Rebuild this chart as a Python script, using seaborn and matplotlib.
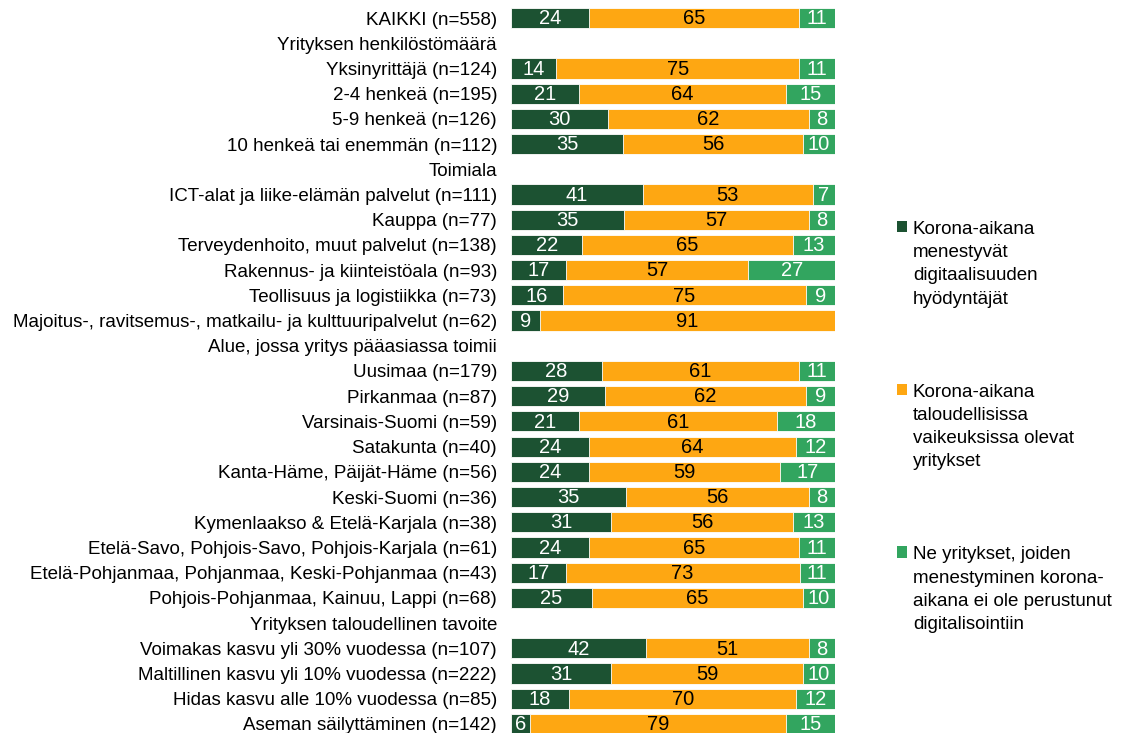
import numpy as np
import pandas as pd
import matplotlib
matplotlib.use("Agg")
import matplotlib.pyplot as plt
import seaborn as sns
from matplotlib.patches import Patch

# rows top to bottom; section headers have no values
labels = [
    "KAIKKI (n=558)",
    "Yrityksen henkilöstömäärä",
    "Yksinyrittäjä (n=124)",
    "2-4 henkeä (n=195)",
    "5-9 henkeä (n=126)",
    "10 henkeä tai enemmän (n=112)",
    "Toimiala",
    "ICT-alat ja liike-elämän palvelut (n=111)",
    "Kauppa (n=77)",
    "Terveydenhoito, muut palvelut (n=138)",
    "Rakennus- ja kiinteistöala (n=93)",
    "Teollisuus ja logistiikka (n=73)",
    "Majoitus-, ravitsemus-, matkailu- ja kulttuuripalvelut (n=62)",
    "Alue, jossa yritys pääasiassa toimii",
    "Uusimaa (n=179)",
    "Pirkanmaa (n=87)",
    "Varsinais-Suomi (n=59)",
    "Satakunta (n=40)",
    "Kanta-Häme, Päijät-Häme (n=56)",
    "Keski-Suomi (n=36)",
    "Kymenlaakso & Etelä-Karjala (n=38)",
    "Etelä-Savo, Pohjois-Savo, Pohjois-Karjala (n=61)",
    "Etelä-Pohjanmaa, Pohjanmaa, Keski-Pohjanmaa (n=43)",
    "Pohjois-Pohjanmaa, Kainuu, Lappi (n=68)",
    "Yrityksen taloudellinen tavoite",
    "Voimakas kasvu yli 30% vuodessa (n=107)",
    "Maltillinen kasvu yli 10% vuodessa (n=222)",
    "Hidas kasvu alle 10% vuodessa (n=85)",
    "Aseman säilyttäminen (n=142)",
]
nan = np.nan
menestyvat = [24, nan, 14, 21, 30, 35, nan, 41, 35, 22, 17, 16, 9, nan,
              28, 29, 21, 24, 24, 35, 31, 24, 17, 25, nan, 42, 31, 18, 6]
vaikeuksissa = [65, nan, 75, 64, 62, 56, nan, 53, 57, 65, 57, 75, 91, nan,
                61, 62, 61, 64, 59, 56, 56, 65, 73, 65, nan, 51, 59, 70, 79]
muut = [11, nan, 11, 15, 8, 10, nan, 7, 8, 13, 27, 9, 0, nan,
        11, 9, 18, 12, 17, 8, 13, 11, 11, 10, nan, 8, 10, 12, 15]

legend_labels = [
    "Korona-aikana\nmenestyvät\ndigitaalisuuden\nhyödyntäjät",
    "Korona-aikana\ntaloudellisissa\nvaikeuksissa olevat\nyritykset",
    "Ne yritykset, joiden\nmenestyminen korona-\naikana ei ole perustunut\ndigitalisointiin",
]
colors = ["#1c5232", "#fea712", "#32a55f"]

df = pd.DataFrame({"label": labels, "a": menestyvat, "b": vaikeuksissa, "c": muut})
total = df[["a", "b", "c"]].sum(axis=1, min_count=1)
# stacked ends, scaled so every bar fills 100
df["end_a"] = df["a"] / total * 100
df["end_b"] = (df["a"] + df["b"]) / total * 100
df["end_c"] = (df["a"] + df["b"] + df["c"]) / total * 100

sns.set_theme(style="white")
plt.rcParams["font.family"] = ["Liberation Sans", "DejaVu Sans"]
plt.rcParams["text.color"] = "black"
plt.rcParams["ytick.color"] = "black"

fig = plt.figure(figsize=(11.4, 7.33), dpi=100)
ax = fig.add_axes([511 / 1140, 0, 324 / 1140, 1])

for col, color in zip(["end_c", "end_b", "end_a"], colors[::-1]):
    sns.barplot(data=df, y="label", x=col, order=labels, color=color,
                orient="h", width=0.8, errorbar=None, ax=ax,
                edgecolor="white", linewidth=0.6, saturation=1)

# value labels in the middle of each segment
for i, row in df.iterrows():
    if np.isnan(row["a"]):
        continue
    starts = [0, row["end_a"], row["end_b"]]
    ends = [row["end_a"], row["end_b"], row["end_c"]]
    for v, s, e, tc in zip([row["a"], row["b"], row["c"]], starts, ends,
                           ["white", "black", "white"]):
        if v > 0:
            ax.text((s + e) / 2, i + 0.03, f"{int(v)}", ha="center",
                    va="center", fontsize=14.5, color=tc)

ax.set_xlim(0, 100)
ax.set_ylim(28.36, -0.714)
ax.set_xlabel("")
ax.set_ylabel("")
ax.set_xticks([])
ax.tick_params(axis="y", length=0, pad=10, labelsize=13.5, labelcolor="black")
sns.despine(ax=ax, left=True, bottom=True)

handles = [Patch(facecolor=c, edgecolor="none") for c in colors]
leg = fig.legend(handles, legend_labels, loc="upper left",
                 bbox_to_anchor=(897 / 1140, 1 - 221 / 733), frameon=False,
                 fontsize=13.5, handlelength=0.55, handleheight=0.55,
                 handletextpad=0.3, labelspacing=4.05, borderpad=0,
                 borderaxespad=0)
for t in leg.get_texts():
    t.set_linespacing(1.48)
for column in leg._legend_handle_box.get_children():
    for item in column.get_children():
        item.align = "top"

fig.savefig("out.png", dpi=100)
